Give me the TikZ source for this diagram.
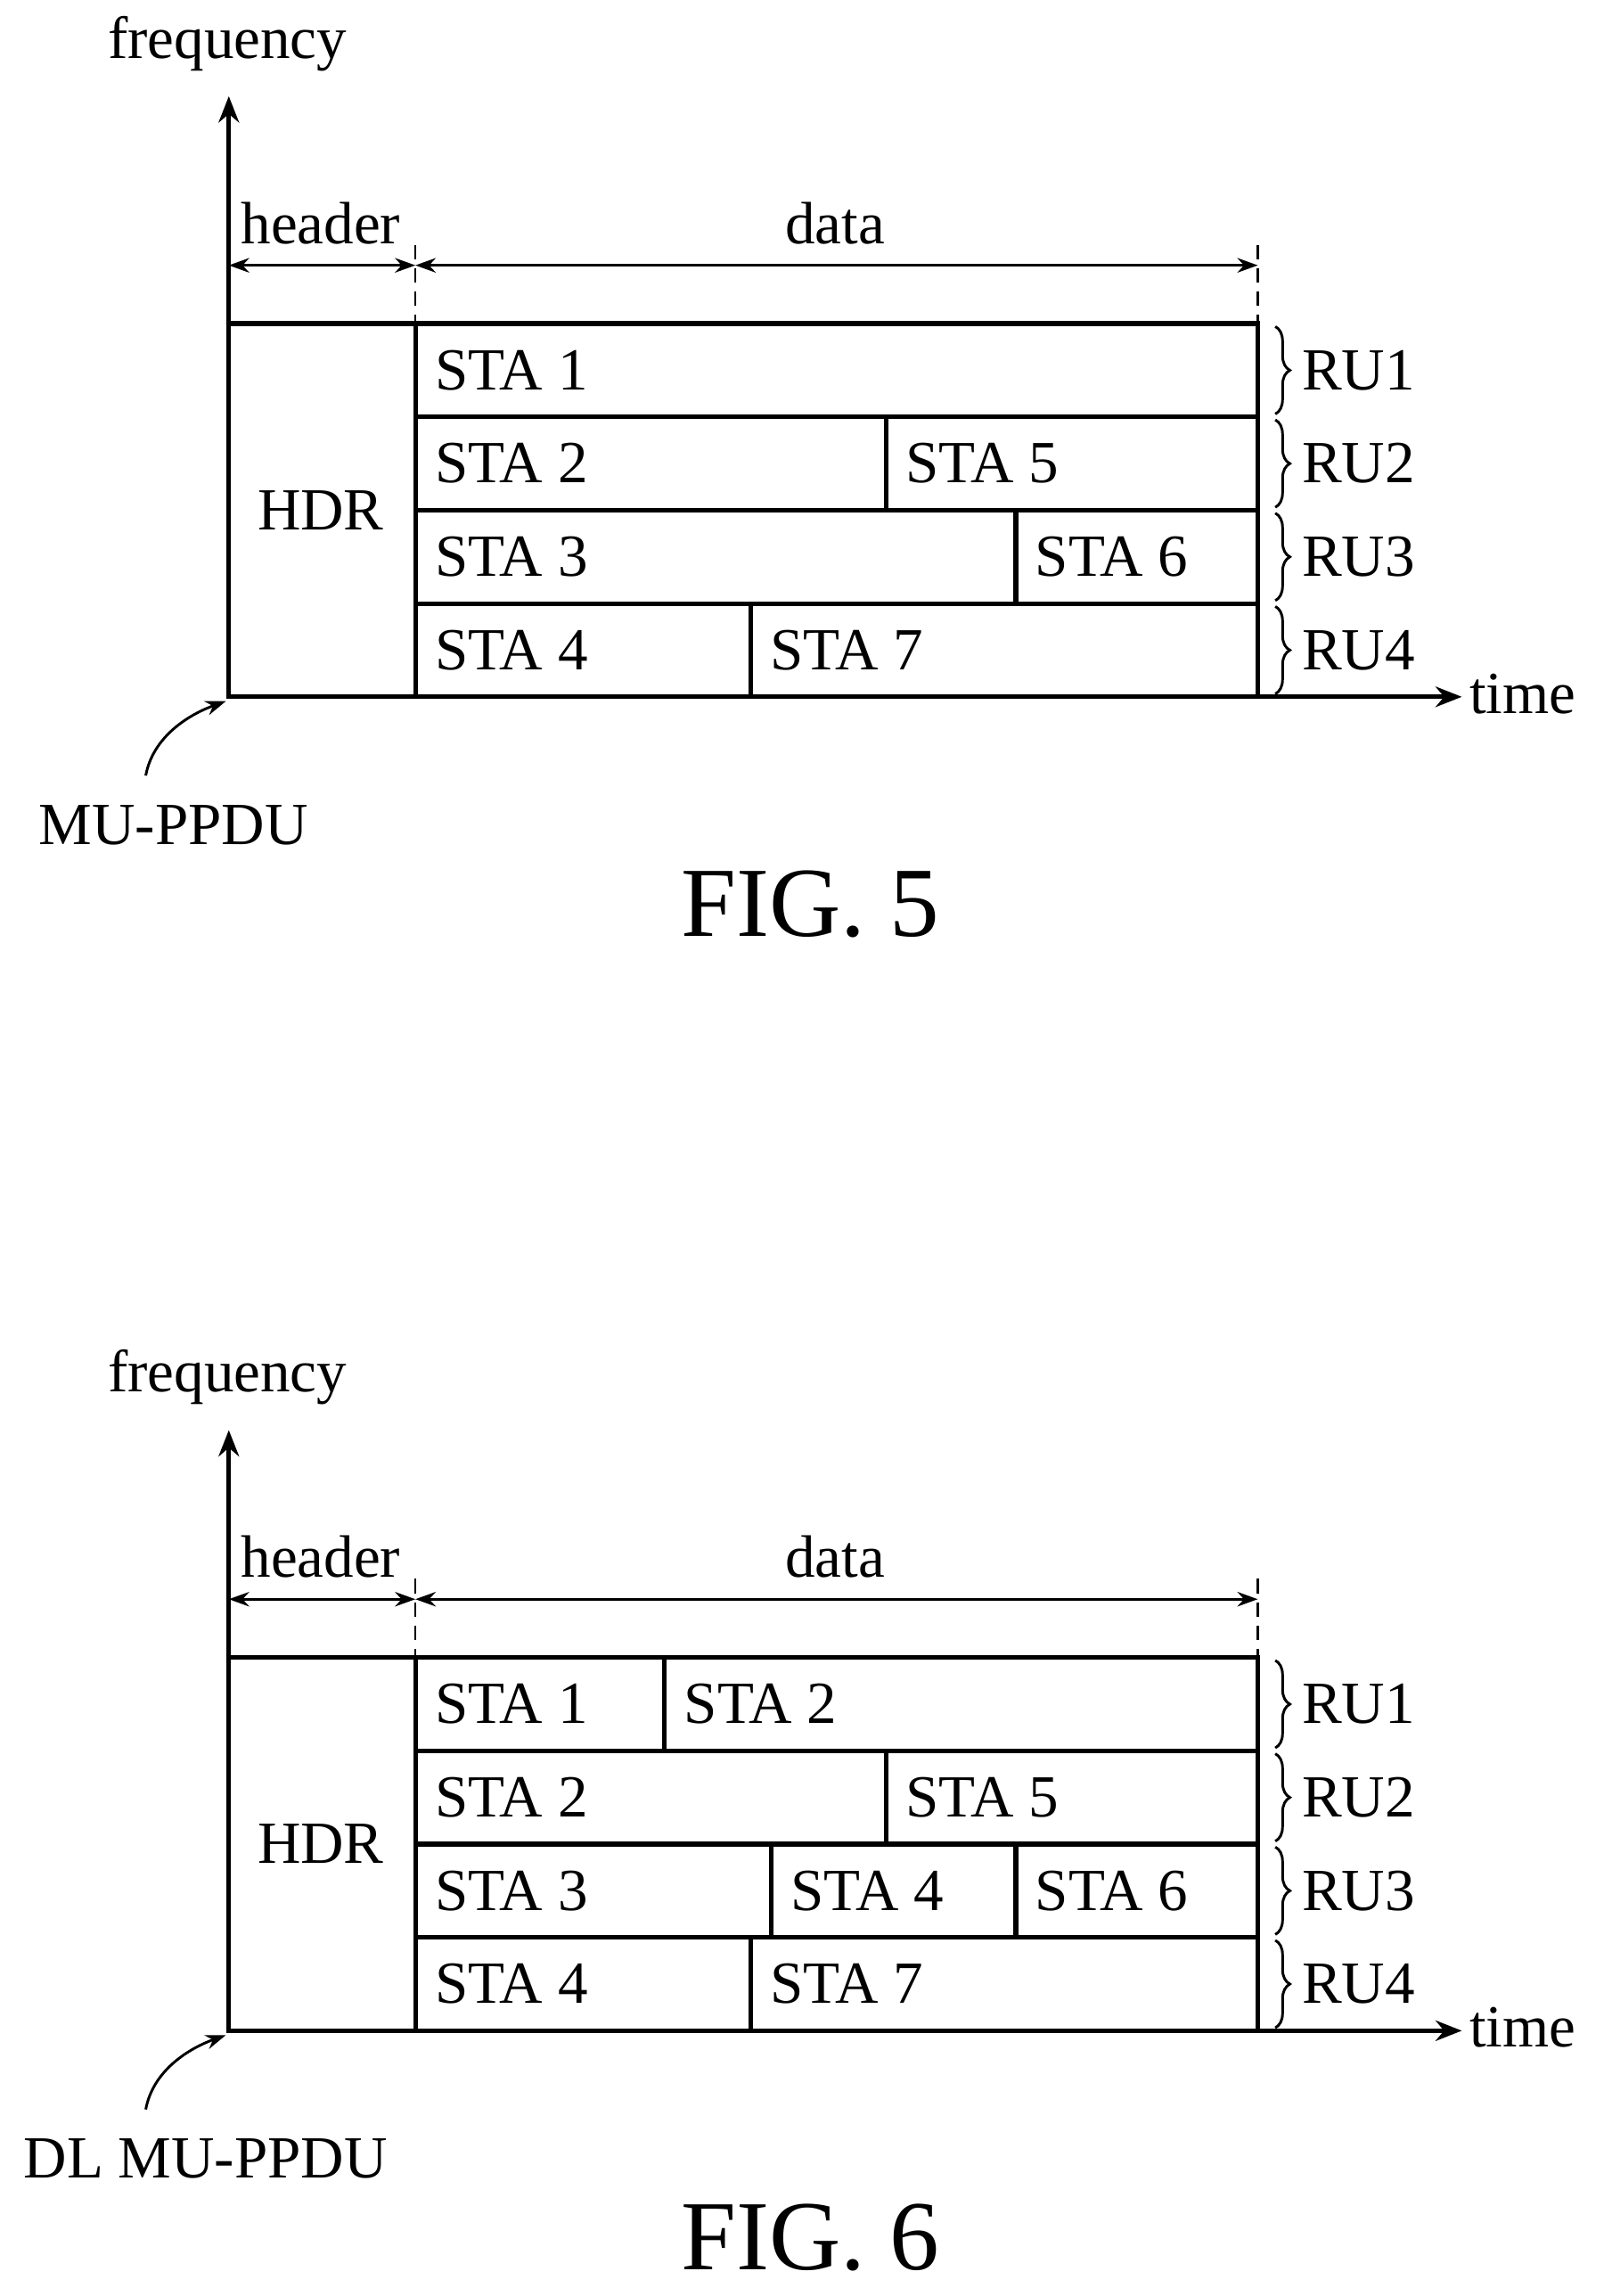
\documentclass[tikz,border=0pt]{standalone}
\usepackage{fontspec}
\setmainfont{Liberation Serif}
\usetikzlibrary{arrows.meta,decorations.pathreplacing}
\begin{document}
\begin{tikzpicture}[x=0.5pt,y=-0.5pt,
  lbl/.style={font=\fontsize{20.5}{24}\selectfont,inner sep=0pt},
  cell/.style={font=\fontsize{20.5}{24}\selectfont,anchor=west,inner sep=0pt},
  fig/.style={font=\fontsize{34}{40}\selectfont,inner sep=0pt},
  ax/.style={line width=1.6pt,-{Stealth[length=9pt,width=7pt]}},
  box/.style={line width=1.6pt},
  dim/.style={line width=0.9pt,{Stealth[length=7pt,width=5pt]}-{Stealth[length=7pt,width=5pt]}},
  br/.style={line width=0.9pt,decorate,decoration={brace,amplitude=5pt}}]
\useasboundingbox (0,0) rectangle (1100,1575);
\foreach \off/\fg/\lab/\six/\lx in {0/5/MU-PPDU/0/119,915/6/DL MU-PPDU/1/141}{
\begin{scope}[yshift=-\off*0.5pt]
 \coordinate (o\fg) at (157,478);
 \coordinate (yt\fg) at (157,66);
 \coordinate (xt\fg) at (1003,478);
 \draw[ax] (o\fg) -- (yt\fg);
 \draw[ax] (o\fg) -- (xt\fg);
 \node[lbl] (fq\fg) at (156,30) {frequency};
 \node[lbl,anchor=west] (tm\fg) at (1008,476) {time};
 \draw[box] (157,222) rectangle (863,478);
 \draw[box] (285,222) -- (285,478);
 \foreach \y in {286,350,414} \draw[box] (285,\y) -- (863,\y);
 \node[lbl] (hdr\fg) at (220,350) {HDR};
 \draw[dash pattern=on 5pt off 3pt,line width=0.8pt] (285,168) -- (285,222) (863,168) -- (863,222);
 \draw[dim] (157,182) -- (285,182);
 \draw[dim] (285,182) -- (863,182);
 \node[lbl] (hd\fg) at (220,153) {header};
 \node[lbl] (dt\fg) at (573,153) {data};
 \foreach \a/\b/\n in {222/286/1,286/350/2,350/414/3,414/478/4}{
   \draw[br] (875,\a+2) -- (875,\b-2);
   \node[lbl,anchor=west] (ru\fg\n) at (893,{(\a+\b)/2}) {RU\n};}
 \node[lbl] (mu\fg) at (\lx,566) {\lab};
 \draw[line width=0.9pt,-{Stealth[length=7pt,width=5pt]}] (100,532) .. controls (105,505) and (130,490) .. (155,481);
 \node[fig] (f\fg) at (556,620) {FIG. \fg};
 \draw[box] (608,286) -- (608,350);
 \draw[box] (515,414) -- (515,478);
 \draw[box] (697,350) -- (697,414);
 \node[cell] at (298,318) {STA 2};
 \node[cell] at (621,318) {STA 5};
 \node[cell] at (298,382) {STA 3};
 \node[cell] at (710,382) {STA 6};
 \node[cell] at (298,446) {STA 4};
 \node[cell] at (528,446) {STA 7};
 \ifnum\six=0
   \node[cell] at (298,254) {STA 1};
 \else
   \draw[box] (456,222) -- (456,286);
   \draw[box] (529,350) -- (529,414);
   \node[cell] at (298,254) {STA 1};
   \node[cell] at (469,254) {STA 2};
   \node[cell] at (542,382) {STA 4};
 \fi
\end{scope}}
\end{tikzpicture}
\end{document}
